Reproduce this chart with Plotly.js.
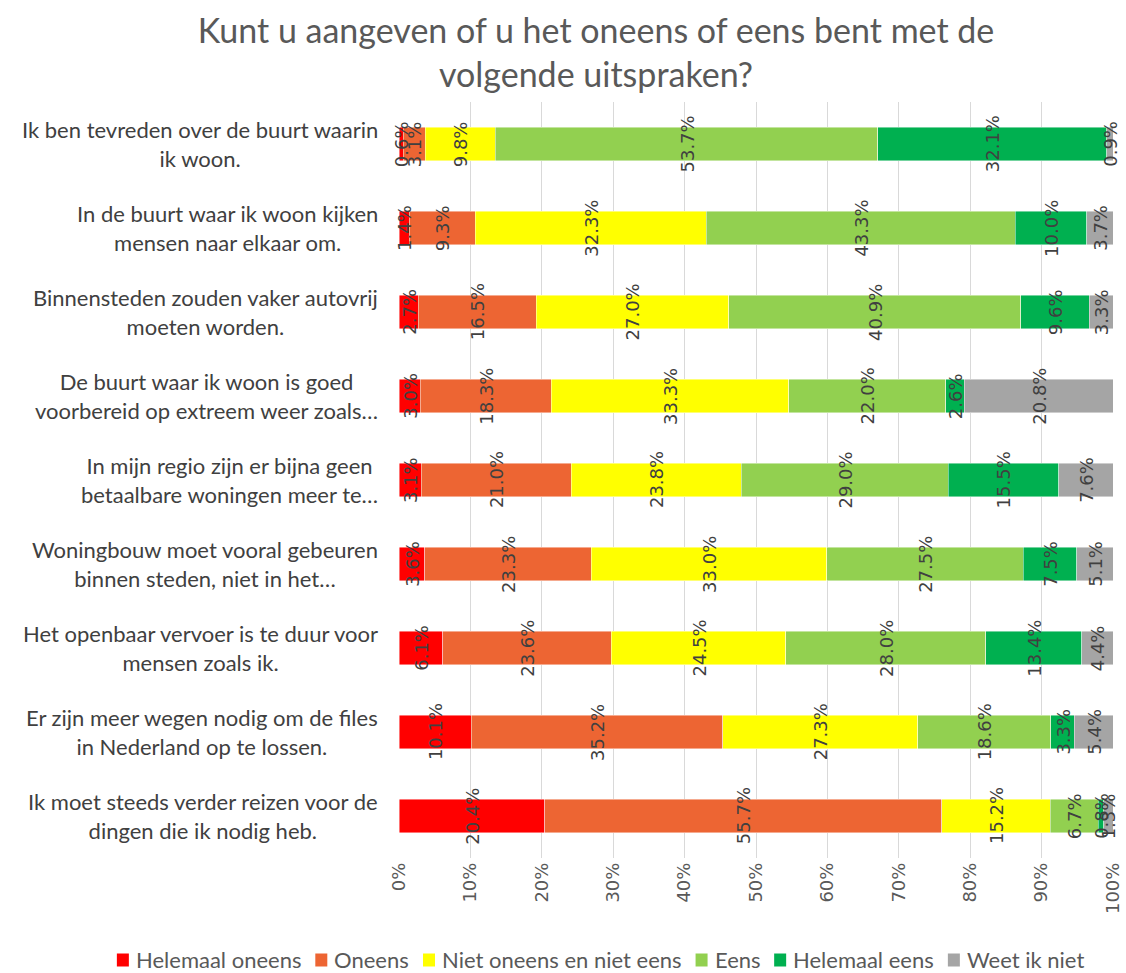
<!DOCTYPE html>
<html>
<head>
<meta charset="utf-8">
<script src="https://cdn.plot.ly/plotly-3.0.1.min.js"></script>
<style>html,body{margin:0;padding:0;background:#fff;}#chart{width:1126px;height:973px;}</style>
</head>
<body>
<div id="chart"></div>
<script>
const categories = [
  "Ik ben tevreden over de buurt waarin<br>ik woon.",
  "In de buurt waar ik woon kijken<br>mensen naar elkaar om.",
  "Binnensteden zouden vaker autovrij<br>moeten worden.",
  "De buurt waar ik woon is goed<br>voorbereid op extreem weer zoals…",
  "In mijn regio zijn er bijna geen<br>betaalbare woningen meer te…",
  "Woningbouw moet vooral gebeuren<br>binnen steden, niet in het…",
  "Het openbaar vervoer is te duur voor<br>mensen zoals ik.",
  "Er zijn meer wegen nodig om de files<br>in Nederland op te lossen.",
  "Ik moet steeds verder reizen voor de<br>dingen die ik nodig heb."
];
const seriesNames = ["Helemaal oneens", "Oneens", "Niet oneens en niet eens", "Eens", "Helemaal eens", "Weet ik niet"];
const seriesColors = ["#FF0000", "#ED6533", "#FFFF00", "#92D050", "#00B050", "#A5A5A5"];

const helemaalOneens = [0.6, 1.4, 2.7, 3.0, 3.1, 3.6, 6.1, 10.1, 20.4];
const oneens         = [3.1, 9.3, 16.5, 18.3, 21.0, 23.3, 23.6, 35.2, 55.7];
const neutraal       = [9.8, 32.3, 27.0, 33.3, 23.8, 33.0, 24.5, 27.3, 15.2];
const eens           = [53.7, 43.3, 40.9, 22.0, 29.0, 27.5, 28.0, 18.6, 6.7];
const helemaalEens   = [32.1, 10.0, 9.6, 2.6, 15.5, 7.5, 13.4, 3.3, 0.8];
const weetIkNiet     = [0.9, 3.7, 3.3, 20.8, 7.6, 5.1, 4.4, 5.4, 1.3];
const xTicks = [0, 10, 20, 30, 40, 50, 60, 70, 80, 90, 100];
const titleText = "Kunt u aangeven of u het oneens of eens bent met de<br>volgende uitspraken?";

const allSeries = [helemaalOneens, oneens, neutraal, eens, helemaalEens, weetIkNiet];

const W = 1126, H = 973;
const M = {l: 399, r: 13, t: 102, b: 115};
const plotW = W - M.l - M.r, plotH = H - M.t - M.b;

const traces = allSeries.map((vals, i) => ({
  type: 'bar',
  orientation: 'h',
  name: seriesNames[i],
  y: categories,
  x: vals,
  textposition: 'none',
  marker: {color: seriesColors[i], line: {color: 'rgba(255,255,255,0.6)', width: 0.75}},
  hoverinfo: 'skip',
  showlegend: false
}));

const annotations = [];

// category labels, centered lines, right of the box near the plot
categories.forEach(c => annotations.push({
  xref: 'paper', yref: 'y',
  x: -0.027, y: c,
  xanchor: 'right', yanchor: 'middle',
  align: 'center',
  text: c,
  showarrow: false,
  font: {family: 'Lato', size: 22, color: '#404040'}
}));

// data labels (rotated) at the middle of each normalized segment
categories.forEach((c, r) => {
  const rowTotal = allSeries.reduce((a, s) => a + s[r], 0);
  let cum = 0;
  allSeries.forEach(s => {
    const v = s[r];
    const mid = (cum + v / 2) / rowTotal * 100;
    cum += v;
    annotations.push({
      xref: 'x', yref: 'y',
      x: mid, y: c,
      xanchor: 'center', yanchor: 'middle',
      text: v.toFixed(1) + '%',
      textangle: -90,
      showarrow: false,
      font: {family: 'DejaVu Sans', size: 18, color: '#404040'}
    });
  });
});

// manual legend (single row, centered like the reference)
const legFont = 22, sq = 12, sqGap = 6, itemGap = 15, legCenterX = 600, legCenterY = 959;
const cv = document.createElement('canvas').getContext('2d');
cv.font = legFont + 'px Lato';
const widths = seriesNames.map(n => cv.measureText(n).width);
const total = widths.reduce((a, w) => a + sq + sqGap + w, 0) + itemGap * (seriesNames.length - 1);
let cx = legCenterX - total / 2;
const shapes = [];
const toPX = px => (px - M.l) / plotW;
const toPY = py => (H - M.b - py) / plotH;
seriesNames.forEach((n, i) => {
  shapes.push({
    type: 'rect', xref: 'paper', yref: 'paper',
    x0: toPX(cx), x1: toPX(cx + sq),
    y0: toPY(legCenterY + sq / 2 + 1.5), y1: toPY(legCenterY - sq / 2 + 0.5),
    fillcolor: seriesColors[i], line: {width: 0}, layer: 'above'
  });
  annotations.push({
    xref: 'paper', yref: 'paper',
    x: toPX(cx + sq + sqGap), y: toPY(legCenterY),
    xanchor: 'left', yanchor: 'middle',
    text: n, showarrow: false,
    xshift: -1,
    font: {family: 'Lato', size: legFont, color: '#595959'}
  });
  cx += sq + sqGap + widths[i] + itemGap;
});

const layout = {
  width: W, height: H,
  margin: M,
  paper_bgcolor: '#ffffff',
  plot_bgcolor: '#ffffff',
  barmode: 'stack',
  barnorm: 'percent',
  bargap: 0.6,
  title: {
    text: titleText,
    font: {family: 'Lato', size: 34, color: '#595959'},
    x: 596 / W, xanchor: 'center', xref: 'container',
    y: 0.956, yanchor: 'top', yref: 'container'
  },
  xaxis: {
    range: [0, 100],
    tickvals: xTicks,
    ticktext: xTicks.map(t => t + '%'),
    tickangle: -90,
    tickfont: {family: 'DejaVu Sans', size: 18, color: '#595959'},
    showgrid: true, gridcolor: '#D9D9D9', gridwidth: 1,
    zeroline: false, showline: false,
    ticks: '', fixedrange: true
  },
  yaxis: {
    autorange: 'reversed',
    showticklabels: false,
    showgrid: false, zeroline: false, showline: false,
    ticks: '', fixedrange: true
  },
  annotations: annotations,
  shapes: shapes,
  showlegend: false
};

Plotly.newPlot('chart', traces, layout, {displayModeBar: false, staticPlot: true});
</script>
</body>
</html>
